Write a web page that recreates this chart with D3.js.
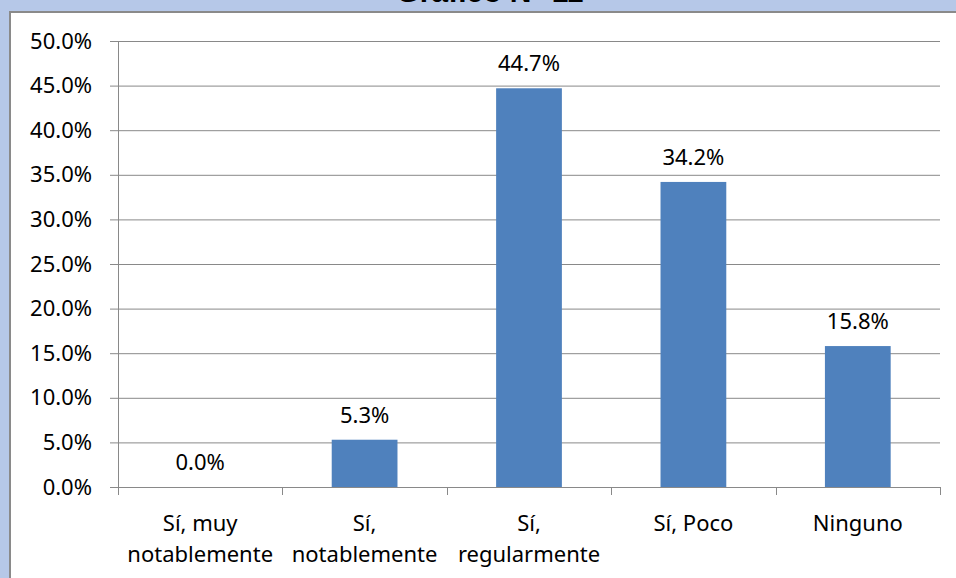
<!DOCTYPE html>
<html>
<head>
<meta charset="utf-8">
<script src="https://cdn.jsdelivr.net/npm/d3@7"></script>
<style>
  html, body { margin: 0; padding: 0; background: #fff; }
  svg { display: block; }
</style>
</head>
<body>
<svg id="chart" width="956" height="578"></svg>
<script>
const title = "Gráfico N° 11";
const categories = [["Sí, muy", "notablemente"], ["Sí,", "notablemente"], ["Sí,", "regularmente"], ["Sí, Poco"], ["Ninguno"]];
const values = [0.0, 5.3, 44.7, 34.2, 15.8];
const yTicks = [0, 5, 10, 15, 20, 25, 30, 35, 40, 45, 50];

(function () {
const svg = d3.select("#chart");
const W = 956, H = 578;
const font = "'Noto Sans', sans-serif";
const fs = 22;

// frame background
svg.append("rect").attr("x", 0).attr("y", 0).attr("width", W).attr("height", H).attr("fill", "#b6c8e8");
svg.append("rect").attr("x", 10).attr("y", 12).attr("width", W + 50).attr("height", H + 50)
  .attr("fill", "#ffffff").attr("stroke", "#8a8a8a").attr("stroke-width", 2);

// title (cut off at top)
svg.append("text").attr("x", 490).attr("y", 2).attr("text-anchor", "middle")
  .attr("font-family", "'Liberation Sans', Arial, sans-serif").attr("font-weight", "bold")
  .attr("font-size", 30).attr("fill", "#000").text(title);

const pl = 118, pr = 940, pt = 41, pb = 487;
const x = d3.scaleBand().domain(d3.range(values.length)).range([pl, pr])
  .paddingInner(0.6).paddingOuter(0.3);
const y = d3.scaleLinear().domain([0, 50]).range([pb, pt]);

const grid = "#898989";
// gridlines
svg.append("g").selectAll("line").data(yTicks).join("line")
  .attr("x1", pl - 8).attr("x2", pr)
  .attr("y1", d => y(d) + 0.5).attr("y2", d => y(d) + 0.5)
  .attr("stroke", grid).attr("stroke-width", 1);

// y axis line
svg.append("line").attr("x1", pl + 0.5).attr("x2", pl + 0.5)
  .attr("y1", pt).attr("y2", pb + 8).attr("stroke", grid);

// x category ticks
const step = x.step();
const tickXs = d3.range(values.length + 1).map(i => pl + i * step);
svg.append("g").selectAll("line").data(tickXs).join("line")
  .attr("x1", d => Math.round(d) + 0.5).attr("x2", d => Math.round(d) + 0.5)
  .attr("y1", pb).attr("y2", pb + 8).attr("stroke", grid);

// y labels
svg.append("g").selectAll("text").data(yTicks).join("text")
  .attr("x", 92).attr("y", d => y(d) + 7.5).attr("text-anchor", "end")
  .attr("font-family", font).attr("font-size", fs).attr("fill", "#000")
  .text(d => d.toFixed(1) + "%");

// bars
svg.append("g").selectAll("rect").data(values).join("rect")
  .attr("x", (d, i) => x(i)).attr("width", x.bandwidth())
  .attr("y", d => y(d)).attr("height", d => pb - y(d))
  .attr("fill", "#4f81bd");

// data labels
svg.append("g").selectAll("text").data(values).join("text")
  .attr("x", (d, i) => x(i) + x.bandwidth() / 2).attr("y", d => y(d) - 17)
  .attr("text-anchor", "middle")
  .attr("font-family", font).attr("font-size", fs).attr("fill", "#000")
  .text(d => d.toFixed(1) + "%");

// category labels
const cl = svg.append("g").selectAll("text").data(categories).join("text")
  .attr("text-anchor", "middle")
  .attr("font-family", font).attr("font-size", fs).attr("fill", "#000");
cl.each(function(lines, i) {
  const t = d3.select(this);
  lines.forEach((ln, j) => {
    t.append("tspan").attr("x", x(i) + x.bandwidth() / 2).attr("y", 531 + j * 31).text(ln);
  });
});
})();
</script>
</body>
</html>
